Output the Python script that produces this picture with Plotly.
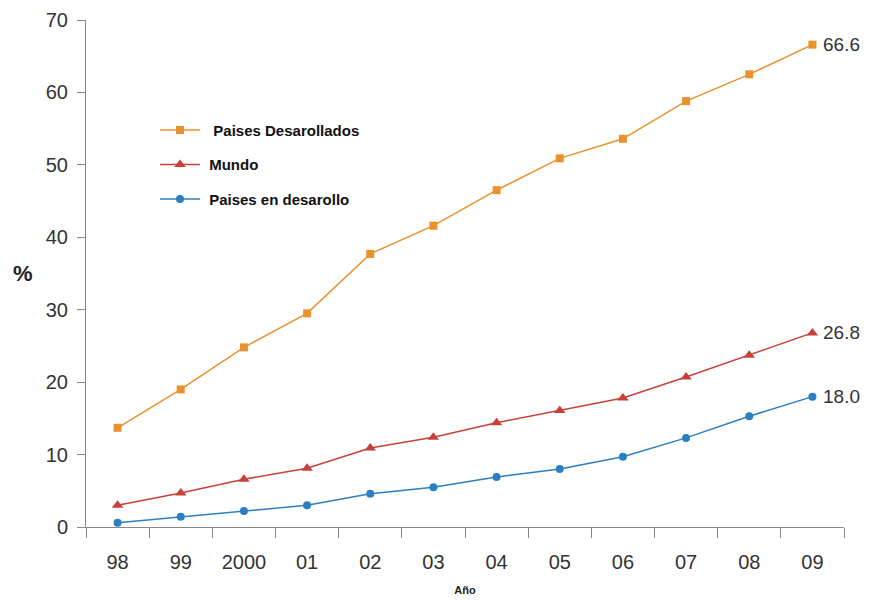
import plotly.graph_objects as go

years = ["98", "99", "2000", "01", "02", "03", "04", "05", "06", "07", "08", "09"]
desarrollados = [13.7, 19.0, 24.8, 29.5, 37.7, 41.6, 46.5, 50.9, 53.6, 58.8, 62.5, 66.6]
mundo = [3.0, 4.7, 6.6, 8.1, 10.9, 12.4, 14.4, 16.1, 17.8, 20.7, 23.7, 26.8]
desarrollo = [0.6, 1.4, 2.2, 3.0, 4.6, 5.5, 6.9, 8.0, 9.7, 12.3, 15.3, 18.0]
end_labels = ["66.6", "26.8", "18.0"]

ORANGE = "#E8922E"
RED = "#C9403A"
BLUE = "#2B7FC0"
FONT = "Liberation Sans, Arial, sans-serif"

fig = go.Figure()
series = [
    ("  Paises Desarollados", desarrollados, ORANGE, "square", 8),
    (" Mundo", mundo, RED, "triangle-up", 10),
    (" Paises en desarollo", desarrollo, BLUE, "circle", 8),
]
last = len(years) - 1
for i, (name, vals, col, sym, sz) in enumerate(series):
    fig.add_trace(go.Scatter(
        x=years, y=vals, name="<b>" + name + "</b>", mode="lines+markers",
        line=dict(color=col, width=1.5),
        marker=dict(symbol=sym, size=sz, color=col),
        legendgroup=str(i), cliponaxis=False,
    ))
    fig.add_annotation(x=last, y=vals[-1], text=end_labels[i], showarrow=False,
                       xanchor="left", yanchor="middle", xshift=9,
                       font=dict(size=19, color="#333333", family=FONT))

fig.add_annotation(text="<b>%</b>", xref="paper", yref="paper", x=-0.083, y=0.5,
                   showarrow=False, xanchor="center", yanchor="middle",
                   font=dict(size=22, color="#222222", family=FONT))

fig.update_layout(
    width=861, height=592,
    margin=dict(l=78, r=25, t=12, b=73),
    paper_bgcolor="white", plot_bgcolor="white",
    font=dict(family=FONT, color="#333333"),
    showlegend=True,
    legend=dict(x=0.091, y=0.815, xanchor="left", yanchor="top",
                font=dict(size=15, color="#111111", family=FONT),
                tracegroupgap=12, traceorder="grouped", bgcolor="rgba(0,0,0,0)",
                itemwidth=40),
    xaxis=dict(
        type="category", tickson="boundaries", ticks="outside", ticklen=10,
        tickcolor="#888888", showline=True, linecolor="#888888", linewidth=1,
        showgrid=False, tickfont=dict(size=20, color="#333333"),
        ticklabelstandoff=17, automargin=False,
        title=dict(text="<b>Año</b>", font=dict(size=11, color="#222222"), standoff=14),
        range=[-0.5, 11.5],
    ),
    yaxis=dict(
        range=[0, 70], tickvals=[0, 10, 20, 30, 40, 50, 60, 70], ticks="outside",
        ticklen=8, tickcolor="#888888", showline=True, linecolor="#888888", linewidth=1,
        showgrid=False, zeroline=False, tickfont=dict(size=20, color="#333333"),
        ticklabelstandoff=5, automargin=False,
    ),
)

fig.write_html("out.html")
